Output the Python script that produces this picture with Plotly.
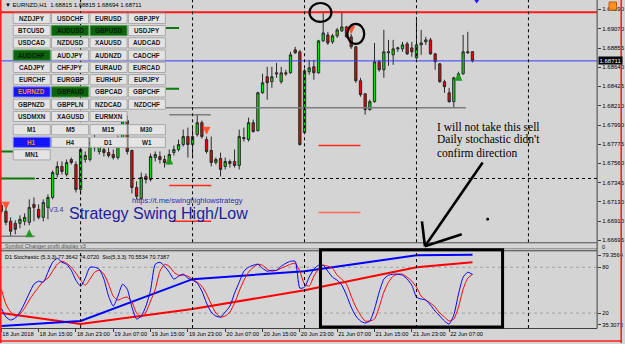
import plotly.graph_objects as go
import pandas as pd

W, H = 625, 344

# ======================= DATA =======================
chart_title = "\u25bc EURNZD,H1  1.68815 1.68815 1.68694 1.68711"
bar_time = pd.date_range("2018-06-18 07:00", periods=102, freq="h")
bar_index = list(range(len(bar_time)))

open_price = [
    1.67088, 1.67021, 1.66909, 1.66886, 1.66886, 1.66909, 1.66897, 1.67099, 1.67043, 1.66953,
    1.67065, 1.67177, 1.67435, 1.67525, 1.67435, 1.67603, 1.67547, 1.67267, 1.67603, 1.67603,
    1.67793, 1.67693, 1.67715, 1.67681, 1.67659, 1.67625, 1.67816, 1.68040, 1.67704, 1.67289,
    1.67166, 1.67413, 1.67379, 1.67625, 1.67637, 1.67603, 1.67581, 1.67681, 1.67715, 1.67771,
    1.67861, 1.67771, 1.67883, 1.68017, 1.67827, 1.67704, 1.67569, 1.67614, 1.67525, 1.67581,
    1.67581, 1.67536, 1.67849, 1.67827, 1.68017, 1.67928, 1.68353, 1.68533, 1.68477, 1.68577,
    1.68477, 1.68577, 1.68577, 1.68835, 1.68813, 1.67905, 1.68589, 1.68645, 1.68577, 1.68936,
    1.69003, 1.68925, 1.68992, 1.69048, 1.69093, 1.68981, 1.68869, 1.68488, 1.68342, 1.68163,
    1.68253, 1.68701, 1.68611, 1.68801, 1.68779, 1.68846, 1.68846, 1.68902, 1.68857, 1.68745,
    1.68891, 1.68925, 1.68947, 1.68790, 1.68678, 1.68477, 1.68353, 1.68253, 1.68521, 1.68566,
    1.68801, 1.68815]
high_price = [
    1.67121, 1.67065, 1.66953, 1.66920, 1.66976, 1.66998, 1.67155, 1.67177, 1.67099, 1.67155,
    1.67211, 1.67480, 1.67581, 1.67581, 1.67603, 1.67625, 1.67581, 1.67749, 1.67693, 1.67849,
    1.67883, 1.67805, 1.67771, 1.67737, 1.67715, 1.67872, 1.68085, 1.68096, 1.67715, 1.67357,
    1.67457, 1.67446, 1.67670, 1.67693, 1.67693, 1.67648, 1.67715, 1.67760, 1.67827, 1.67939,
    1.67961, 1.67961, 1.68107, 1.68040, 1.67861, 1.67861, 1.67625, 1.67681, 1.67625, 1.67603,
    1.67715, 1.67939, 1.67961, 1.68073, 1.68051, 1.68365, 1.68566, 1.68645, 1.68645, 1.68689,
    1.68645, 1.68611, 1.68813, 1.68869, 1.68835, 1.68622, 1.68723, 1.68723, 1.68947, 1.69261,
    1.69037, 1.69014, 1.69081, 1.69249, 1.69104, 1.69014, 1.68880, 1.68521, 1.68342, 1.68275,
    1.68913, 1.68723, 1.69059, 1.68947, 1.68947, 1.68869, 1.68925, 1.68925, 1.68925, 1.69205,
    1.69059, 1.68981, 1.68969, 1.68801, 1.68689, 1.68499, 1.68409, 1.68533, 1.68589, 1.69003,
    1.69037, 1.68815]
low_price = [
    1.66998, 1.66864, 1.66741, 1.66763, 1.66830, 1.66864, 1.66864, 1.66909, 1.66931, 1.66909,
    1.66931, 1.67155, 1.67401, 1.67435, 1.67413, 1.67547, 1.67233, 1.67211, 1.67569, 1.67581,
    1.67693, 1.67659, 1.67637, 1.67625, 1.67603, 1.67603, 1.67793, 1.67659, 1.67222, 1.67155,
    1.67144, 1.67334, 1.67357, 1.67581, 1.67558, 1.67513, 1.67547, 1.67648, 1.67693, 1.67749,
    1.67625, 1.67625, 1.67861, 1.67838, 1.67670, 1.67525, 1.67547, 1.67413, 1.67491, 1.67513,
    1.67513, 1.67491, 1.67805, 1.67805, 1.67905, 1.67917, 1.68342, 1.68275, 1.68409, 1.68521,
    1.68454, 1.68544, 1.68566, 1.68790, 1.67760, 1.67894, 1.68555, 1.68499, 1.68566, 1.68925,
    1.68891, 1.68902, 1.68969, 1.69037, 1.68969, 1.68846, 1.68465, 1.68309, 1.68107, 1.68152,
    1.68241, 1.68589, 1.68521, 1.68656, 1.68667, 1.68813, 1.68813, 1.68779, 1.68757, 1.68734,
    1.68779, 1.68891, 1.68779, 1.68611, 1.68465, 1.68353, 1.68241, 1.68185, 1.68499, 1.68555,
    1.68790, 1.68694]
close_price = [
    1.67021, 1.66897, 1.66797, 1.66819, 1.66931, 1.66953, 1.67065, 1.67065, 1.66953, 1.67121,
    1.67177, 1.67457, 1.67525, 1.67469, 1.67569, 1.67569, 1.67267, 1.67715, 1.67648, 1.67793,
    1.67737, 1.67760, 1.67681, 1.67648, 1.67625, 1.67827, 1.68040, 1.67693, 1.67289, 1.67189,
    1.67401, 1.67379, 1.67637, 1.67659, 1.67603, 1.67569, 1.67659, 1.67715, 1.67771, 1.67861,
    1.67771, 1.67861, 1.68017, 1.67861, 1.67693, 1.67569, 1.67603, 1.67491, 1.67581, 1.67558,
    1.67536, 1.67861, 1.67838, 1.68017, 1.67917, 1.68353, 1.68465, 1.68465, 1.68533, 1.68566,
    1.68577, 1.68566, 1.68779, 1.68801, 1.67771, 1.68600, 1.68633, 1.68577, 1.68936, 1.69025,
    1.68913, 1.68992, 1.69059, 1.69093, 1.68981, 1.68869, 1.68488, 1.68331, 1.68163, 1.68253,
    1.68701, 1.68611, 1.68813, 1.68813, 1.68846, 1.68857, 1.68891, 1.68790, 1.68813, 1.68891,
    1.68913, 1.68947, 1.68790, 1.68701, 1.68477, 1.68421, 1.68253, 1.68521, 1.68566, 1.68813,
    1.68813, 1.68711]

# H1 Stochastic(5,3,3): main (blue) and signal (red)
sto_main = [
    26.5, 14.8, 10.9, 13.5, 21.3, 33.0, 46.0, 57.8, 61.7, 60.4,
    73.5, 86.5, 91.7, 86.5, 83.9, 76.0, 63.0, 55.2, 65.7, 80.0,
    80.0, 77.4, 64.4, 42.2, 29.1, 42.2, 57.8, 51.3, 27.8, 12.2,
    16.1, 29.1, 50.0, 83.9, 86.5, 81.3, 73.5, 64.4, 68.3, 70.9,
    65.7, 63.0, 59.1, 48.7, 33.0, 21.3, 16.1, 14.8, 21.3, 29.1,
    46.0, 60.4, 74.8, 80.0, 82.6, 83.9, 78.7, 74.8, 76.0, 76.0,
    81.3, 85.2, 87.8, 87.8, 52.6, 53.9, 67.0, 77.4, 82.6, 82.6,
    74.8, 67.0, 63.0, 56.5, 43.5, 27.8, 16.1, 9.6, 7.0, 9.6,
    25.2, 47.4, 64.4, 69.6, 70.9, 70.9, 69.6, 64.4, 56.5, 40.9,
    38.3, 37.0, 30.4, 22.6, 16.1, 9.6, 5.7, 17.4, 44.8, 67.0,
    73.5, 70.55]
sto_signal = [
    51.3, 31.7, 21.3, 16.1, 18.7, 26.5, 37.0, 46.0, 53.9, 61.7,
    65.7, 74.8, 83.9, 87.8, 85.2, 80.0, 72.2, 63.0, 56.5, 64.4,
    73.5, 76.0, 70.9, 57.8, 42.2, 37.0, 39.6, 40.9, 34.4, 20.0,
    14.8, 21.3, 35.7, 51.3, 74.8, 83.9, 81.3, 73.5, 69.6, 69.6,
    68.3, 64.4, 60.4, 55.2, 44.8, 31.7, 20.0, 14.8, 16.1, 21.3,
    33.0, 48.7, 63.0, 73.5, 80.0, 83.9, 82.6, 77.4, 74.8, 76.0,
    78.7, 81.3, 83.9, 85.2, 74.8, 57.8, 55.2, 68.3, 77.4, 82.6,
    81.3, 78.7, 69.6, 64.4, 57.8, 42.2, 27.8, 17.4, 9.6, 9.6,
    12.2, 27.8, 47.4, 60.4, 68.3, 70.9, 70.9, 67.0, 61.7, 53.9,
    42.2, 37.0, 33.0, 27.8, 20.0, 14.8, 9.6, 12.2, 27.8, 51.3,
    65.7, 70.74]

# D1 stochastic drawn on the H1 chart (one value per day boundary)
d1_bars = [0, 17, 41, 65, 89, 101]
d1_main = [3.1, 9.6, 64.4, 74.8, 95.6, 96.3]
d1_signal = [20.0, 5.7, 25.2, 50.0, 80.0, 86.5]

# swing arrows
down_arrow_bars = [1, 44, 75]
down_arrow_price = [1.67040, 1.67880, 1.69010]
up_arrow_bars = [6, 36, 98]
up_arrow_price = [1.66819, 1.67637, 1.68577]

# horizontal objects: price, from bar, to bar
resistance_price = 1.69257
bid_price = 1.68711
grid_price = 1.67390
gray_seg_price = [1.68185, 1.68107, 1.66741, 1.69261]
gray_seg_from = [27.0, 36.0, -0.3, 68.0]
gray_seg_to = [99.6, 44.9, 7.2, 77.0]
green_seg_price = [1.69081, 1.68398, 1.67693, 1.67390]
green_seg_from = [35.3, 35.3, -0.3, -0.3]
green_seg_to = [38.1, 38.1, 2.5, 7.2]
red_seg_price = [1.67312, 1.66909, 1.67760, 1.67009]
red_seg_from = [36.0, 36.6, 68.0, 68.0]
red_seg_to = [45.0, 45.0, 77.0, 77.0]

# axes
time_tick_bars = [0, 8, 16, 24, 32, 40, 48, 56, 64, 72, 80, 88, 96]
time_tick_text = ["18 Jun 2018", "18 Jun 15:00", "18 Jun 23:00", "19 Jun 07:00",
                  "19 Jun 15:00", "19 Jun 23:00", "20 Jun 07:00", "20 Jun 15:00",
                  "20 Jun 23:00", "21 Jun 07:00", "21 Jun 15:00", "21 Jun 23:00",
                  "22 Jun 07:00"]
day_separator_bars = [17, 41, 65, 89, 113]
price_tick_vals = [1.69290, 1.69070, 1.68855, 1.68640, 1.68425, 1.68210, 1.67990,
                   1.67775, 1.67560, 1.67345, 1.67130, 1.66910, 1.66695]
price_tick_text = ["%.5f" % v for v in price_tick_vals]
stoch_tick_vals = [95.6, 80, 20, 4.4]
stoch_tick_text = ["79.3564", "80", "20", "35.3073"]
stoch_levels = [80, 20]

# symbol changer panel
symbol_rows = [
    ["NZDJPY", "USDCHF", "EURUSD", "GBPJPY"],
    ["BTCUSD", "AUDUSD", "GBPUSD", "USDJPY"],
    ["USDCAD", "NZDUSD", "XAUUSD", "AUDCAD"],
    ["AUDCHF", "AUDJPY", "AUDNZD", "CADCHF"],
    ["CADJPY", "CHFJPY", "EURAUD", "EURCAD"],
    ["EURCHF", "EURGBP", "EURHUF", "EURJPY"],
    ["EURNZD", "GBPAUD", "GBPCAD", "GBPCHF"],
    ["GBPNZD", "GBPPLN", "NZDCAD", "NZDCHF"],
    ["USDMXN", "XAGUSD", "EURMXN"],
]
timeframe_rows = [["M1", "M5", "M15", "M30"], ["H1", "H4", "D1", "W1"], ["MN1"]]
green_buttons = ["AUDUSD", "GBPUSD", "AUDCHF", "GBPAUD"]
active_buttons = ["EURNZD", "H1"]

stoch_label = "D1 Stochastic (5,3,3) 77.3642 74.0720  Sto(5,3,3) 70.5534 70.7387"
note_lines = ["I will not take this sell", "Daily stochastic didn't", "confirm direction"]

# ======================= FIGURE =======================
BG = "#d4d4d4"
FONT = "Liberation Sans, Arial, sans-serif"
X_RANGE = [-0.277, 127.72]


def px(x):
    return x / W


def py(y):
    return 1 - y / H


fig = go.Figure()


def hseg(price, k0, k1, color, width, dash="solid", yaxis="y"):
    fig.add_trace(go.Scatter(x=[k0, k1], y=[price, price], mode="lines",
                             line=dict(color=color, width=width, dash=dash),
                             yaxis=yaxis, hoverinfo="skip", cliponaxis=True))


# grid / level lines in price pane
hseg(grid_price, X_RANGE[0], X_RANGE[1], "#000000", 1, "dot")
for p, a, b in zip(gray_seg_price, gray_seg_from, gray_seg_to):
    hseg(p, a, b, "#7d7d7d", 1.5)
hseg(resistance_price, X_RANGE[0], X_RANGE[1], "#ff1a1a", 2)
for p, a, b in zip(green_seg_price, green_seg_from, green_seg_to):
    hseg(p, a, b, "#0a7a0a", 2)
for i, (p, a, b) in enumerate(zip(red_seg_price, red_seg_from, red_seg_to)):
    hseg(p, a, b, "#ff6a55" if i == 3 else "#ff2a1a", 1.5)
hseg(bid_price, X_RANGE[0], X_RANGE[1], "#3a3aff", 1)

fig.add_trace(go.Candlestick(
    x=bar_index, open=open_price, high=high_price, low=low_price, close=close_price,
    increasing=dict(line=dict(color="#2a2a2a", width=1), fillcolor="#00e400"),
    decreasing=dict(line=dict(color="#2a2a2a", width=1), fillcolor="#f00000"),
    whiskerwidth=0, hoverinfo="skip", yaxis="y"))

fig.add_trace(go.Scatter(x=down_arrow_bars, y=down_arrow_price, mode="markers",
                         marker=dict(symbol="arrow-down", size=8, color="#ff5533",
                                     line=dict(width=0)), hoverinfo="skip"))
fig.add_trace(go.Scatter(x=up_arrow_bars, y=up_arrow_price, mode="markers",
                         marker=dict(symbol="arrow-up", size=8, color="#1f9a1f",
                                     line=dict(width=0)), hoverinfo="skip"))

# stochastic pane
for lv in stoch_levels:
    hseg(lv, X_RANGE[0], X_RANGE[1], "#a2a2a2", 1, "dot", "y2")
fig.add_trace(go.Scatter(x=d1_bars, y=d1_signal, mode="lines", yaxis="y2",
                         line=dict(color="#ff0000", width=2), hoverinfo="skip"))
fig.add_trace(go.Scatter(x=d1_bars, y=d1_main, mode="lines", yaxis="y2",
                         line=dict(color="#0000ff", width=2), hoverinfo="skip"))
fig.add_trace(go.Scatter(x=bar_index, y=sto_signal, mode="lines", yaxis="y2",
                         line=dict(color="#ff0000", width=1, shape="spline", smoothing=0.6),
                         hoverinfo="skip"))
fig.add_trace(go.Scatter(x=bar_index, y=sto_main, mode="lines", yaxis="y2",
                         line=dict(color="#0000ff", width=1, shape="spline", smoothing=0.6),
                         hoverinfo="skip"))

shapes = []
annotations = []

# day separators
for k in day_separator_bars:
    for (ya, yb) in [(0, 243), (253, 329)]:
        shapes.append(dict(type="line", xref="x", yref="paper", x0=k, x1=k,
                           y0=py(yb), y1=py(ya), line=dict(color="#000000", width=1, dash="dot")))

# pane separators / indicator strip
for y, c, w in [(243.5, "#505050", 1), (249.5, "#8a8a8a", 1), (251.5, "#404040", 1)]:
    shapes.append(dict(type="line", xref="paper", yref="paper", x0=0, x1=px(600),
                       y0=py(y), y1=py(y), line=dict(color=c, width=w)))
shapes.append(dict(type="line", xref="paper", yref="paper", x0=px(600), x1=px(600),
                   y0=py(329.3), y1=1, line=dict(color="#404040", width=1)))

# window frame (red)
shapes.append(dict(type="line", xref="paper", yref="paper", x0=px(0.8), x1=px(0.8), y0=0, y1=1,
                   line=dict(color="#ff2020", width=1.6)))
shapes.append(dict(type="line", xref="paper", yref="paper", x0=px(624.2), x1=px(624.2), y0=0, y1=1,
                   line=dict(color="#ff2020", width=1.6)))
shapes.append(dict(type="line", xref="paper", yref="paper", x0=0, x1=1, y0=py(342), y1=py(342),
                   line=dict(color="#ff2020", width=1.6)))

# symbol changer buttons
col_x = [13.3, 51.8, 90.5, 129.0]
btn_w, btn_h = 37.2, 10.2
row_y = [13.3 + 12.3 * r for r in range(len(symbol_rows))]
tf_y = [125.0, 137.6, 150.2]


def button(x0, y0, name):
    if name in active_buttons:
        fill, txt, border = "#1414ff", "#ff8c1a", "#8080ff"
    elif name in green_buttons:
        fill, txt, border = "#0b640b", "#0a1a0a", "#4a9a4a"
    else:
        fill, txt, border = "#e4e4e4", "#1a1a1a", "#a8a8a8"
    shapes.append(dict(type="rect", xref="paper", yref="paper", x0=px(x0), x1=px(x0 + btn_w),
                       y0=py(y0 + btn_h), y1=py(y0), fillcolor=fill,
                       line=dict(color=border, width=1)))
    annotations.append(dict(x=px(x0 + btn_w / 2), y=py(y0 + btn_h / 2), xref="paper", yref="paper",
                            text=name, showarrow=False, xanchor="center", yanchor="middle",
                            font=dict(family=FONT, size=6.3, color=txt, weight="bold")))


for r, row in enumerate(symbol_rows):
    for c, name in enumerate(row):
        button(col_x[c], row_y[r], name)
for r, row in enumerate(timeframe_rows):
    for c, name in enumerate(row):
        button(col_x[c], tf_y[r], name)

# hand drawn marks (circles, box, arrow)
blk = dict(color="#000000", width=2.2)
shapes.append(dict(type="circle", xref="paper", yref="paper", x0=px(311), x1=px(333),
                   y0=py(22), y1=py(3), line=blk))
shapes.append(dict(type="circle", xref="paper", yref="paper", x0=px(349), x1=px(366),
                   y0=py(44), y1=py(24), line=blk))
shapes.append(dict(type="rect", xref="paper", yref="paper", x0=px(322), x1=px(505),
                   y0=py(328), y1=py(250.5), line=dict(color="#000000", width=3)))
for (xa, ya, xb, yb) in [(485, 163, 427, 247), (427, 247, 424, 222), (427, 247, 464, 235)]:
    shapes.append(dict(type="line", xref="paper", yref="paper", x0=px(xa), y0=py(ya),
                       x1=px(xb), y1=py(yb), line=dict(color="#000000", width=2.6)))
shapes.append(dict(type="circle", xref="paper", yref="paper", x0=px(488.5), x1=px(491.5),
                   y0=py(221.5), y1=py(218.5), fillcolor="#000000", line=dict(width=0)))
# lock icon and blue marker at top right
shapes.append(dict(type="rect", xref="paper", yref="paper", x0=px(612), x1=px(619.5),
                   y0=py(10), y1=py(2), fillcolor="#ff9124", line=dict(color="#c05a00", width=1)))
shapes.append(dict(type="path", xref="paper", yref="paper",
                   path="M %f %f L %f %f L %f %f Z" % (px(476.5), py(0), px(481.5), py(0), px(479), py(3.5)),
                   fillcolor="#2020ff", line=dict(width=0)))

# texts
annotations.append(dict(x=px(3), y=py(5), xref="paper", yref="paper", text=chart_title,
                        showarrow=False, xanchor="left", yanchor="middle",
                        font=dict(family=FONT, size=6, color="#000000")))
annotations.append(dict(x=px(3), y=py(246.5), xref="paper", yref="paper",
                        text="Symbol Changer profit display v3", showarrow=False,
                        xanchor="left", yanchor="middle",
                        font=dict(family=FONT, size=5.5, color="#555555")))
annotations.append(dict(x=px(3), y=py(257.5), xref="paper", yref="paper", text=stoch_label,
                        showarrow=False, xanchor="left", yanchor="middle",
                        font=dict(family=FONT, size=5.5, color="#000000")))
annotations.append(dict(x=px(67), y=py(214), xref="paper", yref="paper",
                        text="Strategy Swing High/Low", showarrow=False,
                        xanchor="left", yanchor="middle",
                        font=dict(family=FONT, size=16, color="#1e1e9e")))
annotations.append(dict(x=px(131), y=py(201), xref="paper", yref="paper",
                        text="https://t.me/swinghighlowstrategy", showarrow=False,
                        xanchor="left", yanchor="middle",
                        font=dict(family=FONT, size=7.5, color="#2a2ab4")))
annotations.append(dict(x=px(47), y=py(210.5), xref="paper", yref="paper", text="V3.4",
                        showarrow=False, xanchor="left", yanchor="middle",
                        font=dict(family=FONT, size=7, color="#3535a5")))
for i, line in enumerate(note_lines):
    annotations.append(dict(x=px(437), y=py(127 + 13 * i), xref="paper", yref="paper",
                            text=line, showarrow=False, align="left",
                            xanchor="left", yanchor="middle",
                            font=dict(family="Liberation Serif, serif", size=11.5, color="#000000")))
annotations.append(dict(x=px(601), y=py(61), xref="paper", yref="paper", text="%.5f" % bid_price,
                        showarrow=False, xanchor="left", yanchor="middle", bgcolor="#000000",
                        borderpad=0.5, font=dict(family=FONT, size=6, color="#ffffff")))
annotations.append(dict(x=px(603), y=py(247.5), xref="paper", yref="paper", text="0",
                        showarrow=False, xanchor="left", yanchor="middle",
                        font=dict(family=FONT, size=5.5, color="#000000")))

fig.update_layout(
    width=W, height=H, autosize=False,
    margin=dict(l=0, r=0, t=0, b=0, pad=0),
    paper_bgcolor=BG, plot_bgcolor=BG, showlegend=False,
    font=dict(family=FONT, size=6, color="#000000"),
    xaxis=dict(domain=[0, 600 / W], range=X_RANGE, anchor="y2",
               tickmode="array", tickvals=time_tick_bars, ticktext=time_tick_text,
               ticks="outside", ticklen=3, tickcolor="#404040", tickwidth=1, tickangle=0,
               ticklabelposition="outside right", tickfont=dict(size=5.7),
               showgrid=False, zeroline=False, showline=True, linecolor="#404040",
               rangeslider=dict(visible=False), fixedrange=True),
    yaxis=dict(domain=[1 - 243 / H, 1], range=[1.66673, 1.69395], side="right", anchor="x",
               tickmode="array", tickvals=price_tick_vals, ticktext=price_tick_text,
               ticks="outside", ticklen=3, tickcolor="#404040", tickfont=dict(size=6),
               showgrid=False, zeroline=False, showline=False, fixedrange=True),
    yaxis2=dict(domain=[1 - 329.3 / H, 1 - 252.7 / H], range=[0, 100], side="right", anchor="x",
                tickmode="array", tickvals=stoch_tick_vals, ticktext=stoch_tick_text,
                ticks="outside", ticklen=3, tickcolor="#404040", tickfont=dict(size=5.7),
                showgrid=False, zeroline=False, showline=False, fixedrange=True),
    shapes=shapes, annotations=annotations,
)

fig.write_html("out.html")
